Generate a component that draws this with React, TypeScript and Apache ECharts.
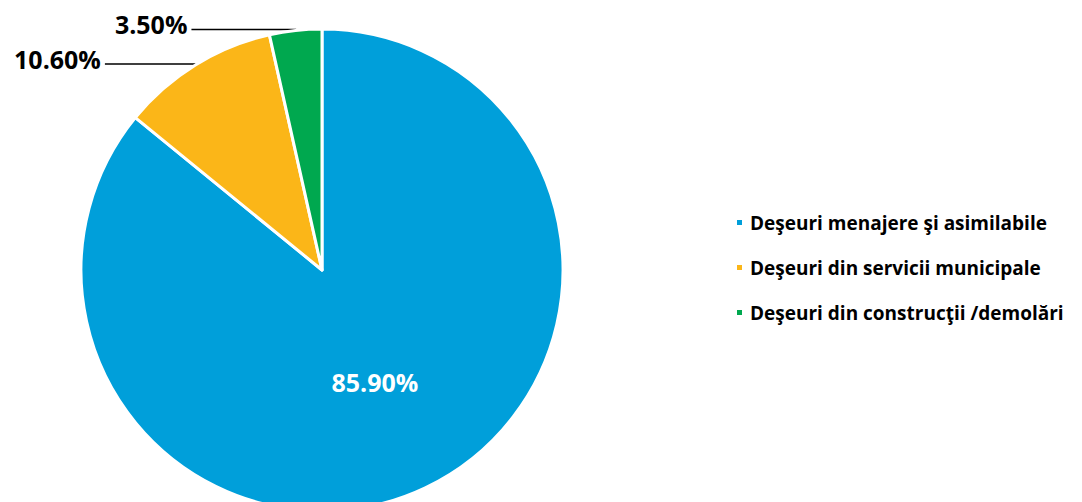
import React, { useEffect, useRef } from "react";
import * as echarts from "echarts";

const categories = [
  "Deşeuri menajere şi asimilabile",
  "Deşeuri din servicii municipale",
  "Deşeuri din construcţii /demolări",
];
const values = [85.9, 10.6, 3.5];
const colors = ["#009FDA", "#FBB618", "#00A84F"];

export default function App() {
  const ref = useRef<HTMLDivElement>(null);
  useEffect(() => {
    if (!ref.current) return;
    const chart = echarts.init(ref.current, undefined, { renderer: "svg" });
    const font = "'Open Sans', sans-serif";
    const labelLens = [0, 90, 104];
    chart.setOption({
      animation: false,
      backgroundColor: "#ffffff",
      legend: {
        orient: "vertical",
        left: 735,
        top: 213,
        padding: 0,
        icon: "rect",
        itemWidth: 7,
        itemHeight: 7,
        itemGap: 26,
        data: categories,
        textStyle: { fontFamily: font, fontWeight: "bold", fontSize: 19, color: "#000", padding: [0, 0, 0, 2] },
      },
      series: [
        {
          type: "pie",
          center: [322, 270],
          radius: 241,
          startAngle: 90,
          clockwise: true,
          itemStyle: { borderColor: "#fff", borderWidth: 3 },
          labelLayout: (p: any) => (p.dataIndex === 0 ? {} : { dy: -5 }),
          data: categories.map((name, i) => ({
            name,
            value: values[i],
            itemStyle: { color: colors[i] },
            label:
              i === 0
                ? {
                    show: true,
                    position: "inside",
                    formatter: (p: any) => p.value.toFixed(2) + "%",
                    color: "#fff",
                    fontSize: 25,
                    fontWeight: "bold",
                    fontFamily: font,
                  }
                : {
                    show: true,
                    position: "outside",
                    formatter: (p: any) => p.value.toFixed(2) + "%",
                    color: "#000",
                    fontSize: 25,
                    fontWeight: "bold",
                    fontFamily: font,
                    distanceToLabelLine: 4,
                  },
            labelLine:
              i === 0
                ? { show: false }
                : { show: true, length: 1, length2: labelLens[i], lineStyle: { color: "#000", width: 1.5 } },
          })),
        },
      ],
    });
    return () => chart.dispose();
  }, []);
  return (
    <div
      ref={ref}
      style={{ position: "fixed", left: 0, top: 0, width: 1082, height: 502 }}
    />
  );
}
